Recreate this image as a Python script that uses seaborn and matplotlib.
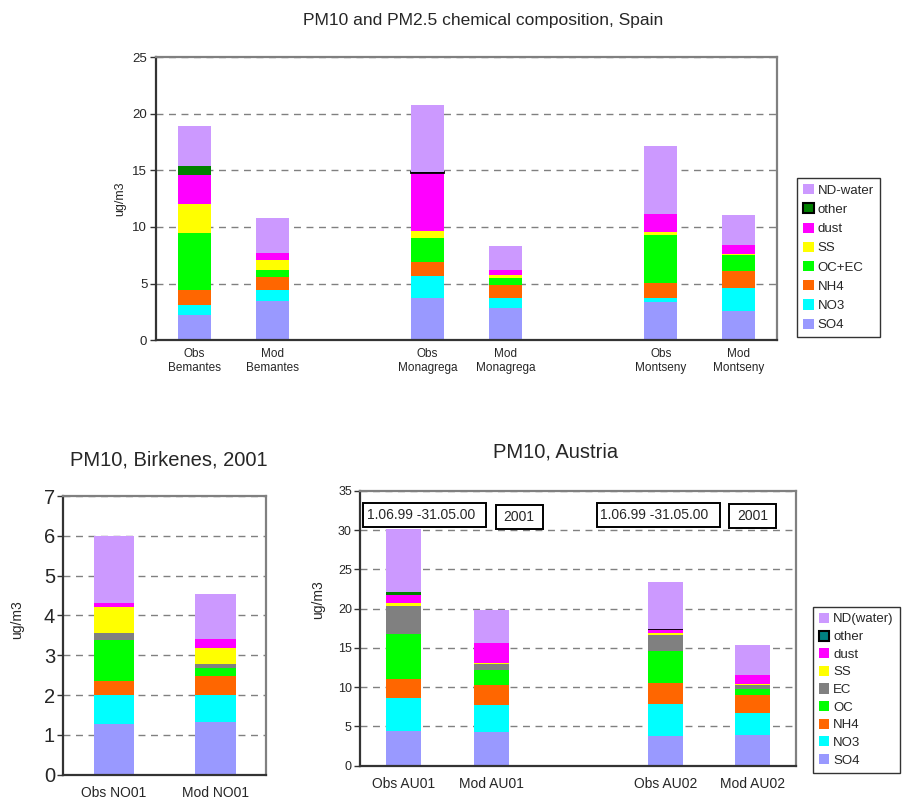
import matplotlib
matplotlib.use("Agg")
import matplotlib.pyplot as plt
from matplotlib.patches import Patch, Rectangle
import numpy as np
import pandas as pd
import seaborn as sns

# Spain (top panel)
spain_sites = ["Obs\nBemantes", "Mod\nBemantes", "", "Obs\nMonagrega", "Mod\nMonagrega",
               " ", "Obs\nMontseny", "Mod\nMontseny"]
spain_SO4 = [2.18, 3.42, 0, 3.71, 2.83, 0, 3.36, 2.56]
spain_NO3 = [0.91, 1.00, 0, 2.00, 0.88, 0, 0.35, 2.03]
spain_NH4 = [1.33, 1.12, 0, 1.18, 1.12, 0, 1.33, 1.48]
spain_OCEC = [5.03, 0.64, 0, 2.12, 0.65, 0, 4.24, 1.44]
spain_SS = [2.56, 0.89, 0, 0.59, 0.26, 0, 0.26, 0.09]
spain_dust = [2.57, 0.62, 0, 5.21, 0.44, 0, 1.59, 0.79]
spain_other = [0.79, 0, 0, 0.05, 0, 0, 0, 0]
spain_ND = [3.53, 3.09, 0, 5.95, 2.12, 0, 6.01, 2.65]

# Birkenes (bottom left)
nor_sites = ["Obs NO01", "Mod NO01"]
nor_SO4 = [1.28, 1.33]
nor_NO3 = [0.71, 0.67]
nor_NH4 = [0.36, 0.48]
nor_OC = [1.03, 0.21]
nor_EC = [0.18, 0.09]
nor_SS = [0.65, 0.40]
nor_dust = [0.10, 0.23]
nor_ND = [1.69, 1.13]

# Austria (bottom right)
au_sites = ["Obs AU01", "Mod AU01", "", "Obs AU02", "Mod AU02"]
au_SO4 = [4.41, 4.29, 0, 3.78, 3.91]
au_NO3 = [4.21, 3.39, 0, 4.07, 2.80]
au_NH4 = [2.37, 2.55, 0, 2.68, 2.29]
au_OC = [5.77, 1.95, 0, 4.07, 0.76]
au_EC = [3.57, 0.77, 0, 2.03, 0.55]
au_SS = [0.38, 0.12, 0, 0.30, 0.13]
au_dust = [1.02, 2.55, 0, 0.43, 1.10]
au_other = [0.37, 0, 0, 0.05, 0]
au_ND = [8.10, 4.20, 0, 6.00, 3.82]
au_periods = ["1.06.99 -31.05.00", "2001", "1.06.99 -31.05.00", "2001"]

C_SO4, C_NO3, C_NH4, C_OC = "#9999FF", "#00FFFF", "#FF6600", "#00FF00"
C_SS, C_DUST, C_OTHER, C_ND, C_EC = "#FFFF00", "#FF00FF", "#008000", "#CC99FF", "#808080"

sns.set_style("white")
plt.rcParams["font.family"] = ["Liberation Sans", "DejaVu Sans"]


def stacked(ax, sites, comps, width):
    bottom = np.zeros(len(sites))
    for name, vals, color in comps:
        vals = np.array(vals, dtype=float)
        df = pd.DataFrame({"site": sites, "val": vals})
        lw = [1.3 if (name == "other" and 0 < v < 0.2) else 0 for v in vals]
        sns.barplot(data=df, x="site", y="val", order=sites, color=color, width=width,
                    saturation=1, errorbar=None, bottom=bottom.copy(),
                    edgecolor="black", linewidth=lw, ax=ax)
        bottom += vals


def style(ax, n, ymax, ystep, yfs, xfs, pad):
    ax.set_xlim(-0.5, n - 0.5)
    ax.set_ylim(0, ymax)
    ax.set_yticks(np.arange(0, ymax + ystep / 2, ystep))
    ax.set_xlabel("")
    ax.set_ylabel("")
    ax.yaxis.grid(True, color="#808080", linestyle=(0, (5, 4)), linewidth=1)
    ax.xaxis.grid(False)
    ax.set_axisbelow(True)
    for s in ["left", "bottom"]:
        ax.spines[s].set_color("#333333")
        ax.spines[s].set_linewidth(1.6)
    for s in ["top", "right"]:
        ax.spines[s].set_color("#808080")
        ax.spines[s].set_linewidth(1.6)
    ax.set_xticks(np.arange(-0.5, n), minor=True)
    ax.tick_params(axis="x", which="major", length=0, labelsize=xfs, pad=pad)
    ax.tick_params(axis="x", which="minor", length=5, width=1, color="#333333", direction="out")
    ax.tick_params(axis="y", length=4, width=1, color="#333333", direction="out",
                   left=True, labelsize=yfs, pad=2)


def legend(handles, anchor, spacing):
    leg = fig.legend(handles=handles, loc="upper left", bbox_to_anchor=anchor, fontsize=9.5,
                     frameon=True, fancybox=False, edgecolor="black", handlelength=0.8,
                     handleheight=0.8, handletextpad=0.3, labelspacing=spacing,
                     borderpad=0.45, borderaxespad=0)
    leg.get_frame().set_linewidth(1)


fig = plt.figure(figsize=(9.05, 8.06), dpi=100)

# ---- top panel ----
ax1 = fig.add_axes([0.172, 0.578, 0.687, 0.351])
stacked(ax1, spain_sites, [
    ("SO4", spain_SO4, C_SO4), ("NO3", spain_NO3, C_NO3), ("NH4", spain_NH4, C_NH4),
    ("OC+EC", spain_OCEC, C_OC), ("SS", spain_SS, C_SS), ("dust", spain_dust, C_DUST),
    ("other", spain_other, C_OTHER), ("ND-water", spain_ND, C_ND)], 0.42)
style(ax1, len(spain_sites), 25, 5, 9.5, 8.5, 6)
fig.text(0.534, 0.974, "PM10 and PM2.5 chemical composition, Spain", ha="center", va="center",
         fontsize=12.5)
fig.text(0.133, 0.754, "ug/m3", rotation=90, ha="center", va="center", fontsize=9)

legend([Patch(fc=C_ND, ec="none", label="ND-water"),
        Patch(fc=C_OTHER, ec="black", lw=1.5, label="other"),
        Patch(fc=C_DUST, ec="none", label="dust"),
        Patch(fc=C_SS, ec="none", label="SS"),
        Patch(fc=C_OC, ec="none", label="OC+EC"),
        Patch(fc=C_NH4, ec="none", label="NH4"),
        Patch(fc=C_NO3, ec="none", label="NO3"),
        Patch(fc=C_SO4, ec="none", label="SO4")], (0.881, 0.779), 0.5)

# ---- bottom left ----
ax2 = fig.add_axes([0.070, 0.0388, 0.224, 0.3458])
stacked(ax2, nor_sites, [
    ("SO4", nor_SO4, C_SO4), ("NO3", nor_NO3, C_NO3), ("NH4", nor_NH4, C_NH4),
    ("OC", nor_OC, C_OC), ("EC", nor_EC, C_EC), ("SS", nor_SS, C_SS),
    ("dust", nor_dust, C_DUST), ("ND", nor_ND, C_ND)], 0.4)
style(ax2, len(nor_sites), 7, 1, 14.5, 10, 8)
fig.text(0.186, 0.429, "PM10, Birkenes, 2001", ha="center", va="center", fontsize=14.5)
fig.text(0.019, 0.231, "ug/m3", rotation=90, ha="center", va="center", fontsize=10)

# ---- bottom right ----
ax3 = fig.add_axes([0.398, 0.05, 0.482, 0.341])
stacked(ax3, au_sites, [
    ("SO4", au_SO4, C_SO4), ("NO3", au_NO3, C_NO3), ("NH4", au_NH4, C_NH4),
    ("OC", au_OC, C_OC), ("EC", au_EC, C_EC), ("SS", au_SS, C_SS),
    ("dust", au_dust, C_DUST), ("other", au_other, C_OTHER), ("ND(water)", au_ND, C_ND)], 0.4)
style(ax3, len(au_sites), 35, 5, 9, 10, 8)
fig.text(0.614, 0.439, "PM10, Austria", ha="center", va="center", fontsize=14.5)
fig.text(0.351, 0.256, "ug/m3", rotation=90, ha="center", va="center", fontsize=10)

# date boxes (axes fractions)
box_x = [0.0069, 0.3114, 0.5427, 0.845]
box_w = [0.2817, 0.1076, 0.2817, 0.1076]
box_y = [0.868, 0.861, 0.868, 0.864]
text_x = [0.016, 0.327, 0.550, 0.864]
for bx, bw, by, tx, lab in zip(box_x, box_w, box_y, text_x, au_periods):
    ax3.add_patch(Rectangle((bx, by), bw, 0.0873, transform=ax3.transAxes, fc="white",
                            ec="black", lw=1.4, zorder=5, clip_on=False))
    ax3.text(tx, by + 0.045, lab, transform=ax3.transAxes, ha="left", va="center",
             fontsize=10, zorder=6)

legend([Patch(fc=C_ND, ec="none", label="ND(water)"),
        Patch(fc="#008080", ec="black", lw=1.5, label="other"),
        Patch(fc=C_DUST, ec="none", label="dust"),
        Patch(fc=C_SS, ec="none", label="SS"),
        Patch(fc=C_EC, ec="none", label="EC"),
        Patch(fc=C_OC, ec="none", label="OC"),
        Patch(fc=C_NH4, ec="none", label="NH4"),
        Patch(fc=C_NO3, ec="none", label="NO3"),
        Patch(fc=C_SO4, ec="none", label="SO4")], (0.898, 0.247), 0.38)

fig.savefig("out.png", dpi=100)
